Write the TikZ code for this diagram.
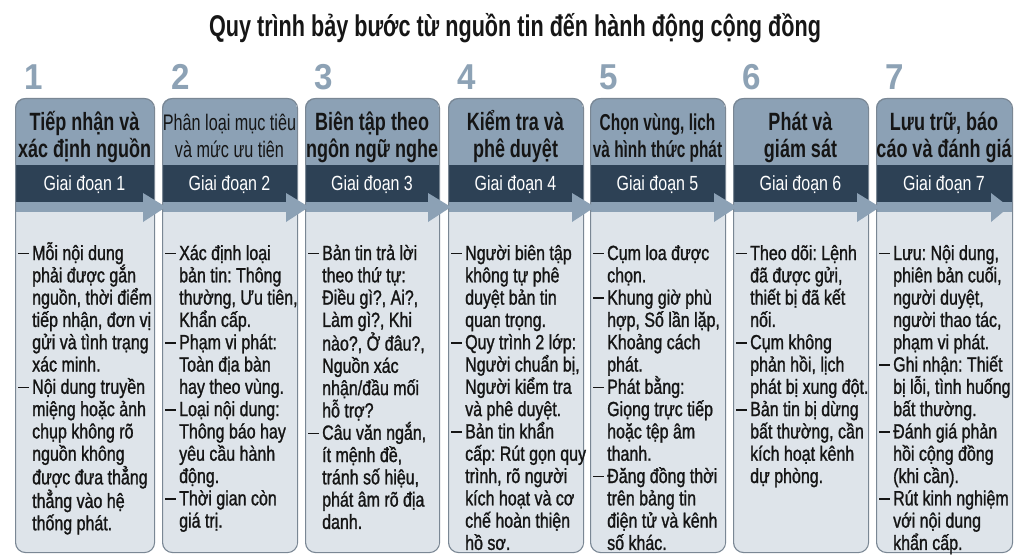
\documentclass[tikz,border=0pt]{standalone}
\usepackage{fontspec}
\setmainfont{Liberation Sans}[FakeStretch=0.78]
\newfontfamily\hfont{Liberation Sans}[FakeStretch=0.72]
\newfontfamily\hnarrow{Liberation Sans}[FakeStretch=0.67]
\newfontfamily\numfont{Liberation Sans}[FakeStretch=0.92]
\newfontfamily\bodyfont{Liberation Sans}[FakeStretch=0.78,FakeBold=1.2]
\definecolor{headc}{HTML}{8CA1B5}
\definecolor{darkc}{HTML}{2D4155}
\definecolor{bodyc}{HTML}{DEE4EA}
\definecolor{borderc}{HTML}{7A8794}
\definecolor{numc}{HTML}{8DA2B5}
\definecolor{titlec}{HTML}{161616}
\definecolor{textc}{HTML}{151515}
\newcommand\D{\makebox[14pt][l]{\rule[5.6pt]{11pt}{1.6pt}}}
\newcommand\I{\hspace*{14pt}}
\tikzset{
  colbox/.style={draw=borderc, line width=1.1pt, rounded corners=10pt, inner sep=0pt, anchor=north west},
  numtext/.style={text=numc, font=\numfont\fontsize{36}{40}\selectfont\bfseries, inner sep=0pt, anchor=base west},
  stagetext/.style={text=white, font=\fontsize{20.5}{24}\selectfont, inner sep=0pt, anchor=base},
  headtext/.style={inner sep=0pt, anchor=base, text=textc},
  bodytext/.style={inner sep=0pt, anchor=base west, text=textc},
}
% #1 index, #2 left, #3 right, #4 header content, #5 body content
\newcommand\stagecol[5]{%
  \pgfmathsetmacro\L{#2}\pgfmathsetmacro\R{#3}\pgfmathsetmacro\C{(#2+#3)/2}%
  \pgfmathsetmacro\W{#3-#2}%
  \begin{scope}
    \clip[rounded corners=10pt] (\L,98) rectangle (\R,552);
    \fill[bodyc] (\L,98) rectangle (\R,552);
    \fill[headc] (\L,98) rectangle (\R,165);
    \fill[darkc] (\L,165) rectangle (\R,202);
    \fill[headc] (\L,202) rectangle (\R,212);
  \end{scope}
  \node[colbox, minimum width=\W pt, minimum height=454pt] (box#1) at (\L,98) {};
  \node[numtext] (num#1) at (\L+9,90) {#1};
  \node[headtext] (head#1) at (\C,130) {\parbox[t]{160pt}{\centering\hfont #4}};
  \node[stagetext] (stage#1) at (\C,190) {Giai đoạn #1};
  \node[bodytext] (body#1) at (\L+3,260) {\parbox[t]{160pt}{\bodyfont\fontsize{20.5}{22.3}\selectfont\frenchspacing\raggedright #5}};
}
\newcommand\HB{\fontsize{25}{27}\selectfont\bfseries}
\newcommand\HR{\fontsize{22.5}{27}\selectfont}
\begin{document}
\begin{tikzpicture}[x=1pt,y=-1pt]
\useasboundingbox[fill=white] (0,0) rectangle (1024,559);
\node[text=titlec, font=\hfont\fontsize{30}{32}\selectfont\bfseries, anchor=base, inner sep=0pt] (title) at (515,37) {Quy trình bảy bước từ nguồn tin đến hành động cộng đồng};

\stagecol{1}{15}{154}{\HB Tiếp nhận và\\xác định nguồn}{%
\D Mỗi nội dung\\\I phải được gắn\\\I nguồn, thời điểm\\\I tiếp nhận, đơn vị\\\I gửi và tình trạng\\\I xác minh.\\
\D Nội dung truyền\\\I miệng hoặc ảnh\\\I chụp không rõ\\\I nguồn không\\\I được đưa thẳng\\\I thẳng vào hệ\\\I thống phát.}

\stagecol{2}{162}{297}{\HR Phân loại mục tiêu\\và mức ưu tiên}{%
\D Xác định loại\\\I bản tin: Thông\\\I thường, Ưu tiên,\\\I Khẩn cấp.\\
\D Phạm vi phát:\\\I Toàn địa bàn\\\I hay theo vùng.\\
\D Loại nội dung:\\\I Thông báo hay\\\I yêu cầu hành\\\I động.\\
\D Thời gian còn\\\I giá trị.}

\stagecol{3}{305}{439}{\HB Biên tập theo\\ngôn ngữ nghe}{%
\D Bản tin trả lời\\\I theo thứ tự:\\\I Điều gì?, Ai?,\\\I Làm gì?, Khi\\\I nào?, Ở đâu?,\\\I Nguồn xác\\\I nhận/đầu mối\\\I hỗ trợ?\\
\D Câu văn ngắn,\\\I ít mệnh đề,\\\I tránh số hiệu,\\\I phát âm rõ địa\\\I danh.}

\stagecol{4}{448}{583}{\HB Kiểm tra và\\phê duyệt}{%
\D Người biên tập\\\I không tự phê\\\I duyệt bản tin\\\I quan trọng.\\
\D Quy trình 2 lớp:\\\I Người chuẩn bị,\\\I Người kiểm tra\\\I và phê duyệt.\\
\D Bản tin khẩn\\\I cấp: Rút gọn quy\\\I trình, rõ người\\\I kích hoạt và cơ\\\I chế hoàn thiện\\\I hồ sơ.}

\stagecol{5}{590}{725}{\hnarrow\fontsize{23}{27}\selectfont\bfseries Chọn vùng, lịch\\và hình thức phát}{%
\D Cụm loa được\\\I chọn.\\
\D Khung giờ phù\\\I hợp, Số lần lặp,\\\I Khoảng cách\\\I phát.\\
\D Phát bằng:\\\I Giọng trực tiếp\\\I hoặc tệp âm\\\I thanh.\\
\D Đăng đồng thời\\\I trên bảng tin\\\I điện tử và kênh\\\I số khác.}

\stagecol{6}{733}{868}{\HB Phát và\\giám sát}{%
\D Theo dõi: Lệnh\\\I đã được gửi,\\\I thiết bị đã kết\\\I nối.\\
\D Cụm không\\\I phản hồi, lịch\\\I phát bị xung đột.\\
\D Bản tin bị dừng\\\I bất thường, cần\\\I kích hoạt kênh\\\I dự phòng.}

\stagecol{7}{876}{1012}{\HB Lưu trữ, báo\\cáo và đánh giá}{%
\D Lưu: Nội dung,\\\I phiên bản cuối,\\\I người duyệt,\\\I người thao tác,\\\I phạm vi phát.\\
\D Ghi nhận: Thiết\\\I bị lỗi, tình huống\\\I bất thường.\\
\D Đánh giá phản\\\I hồi cộng đồng\\\I (khi cần).\\
\D Rút kinh nghiệm\\\I với nội dung\\\I khẩn cấp.}

% arrow heads between stages
\foreach \r in {154,297,439,583,725,868} {
  \fill[headc] (\r-11,193) -- (\r+12,207) -- (\r-11,222) -- cycle;
}
\fill[headc] (991,193) -- (1009,207) -- (991,222) -- cycle;
\end{tikzpicture}
\end{document}
